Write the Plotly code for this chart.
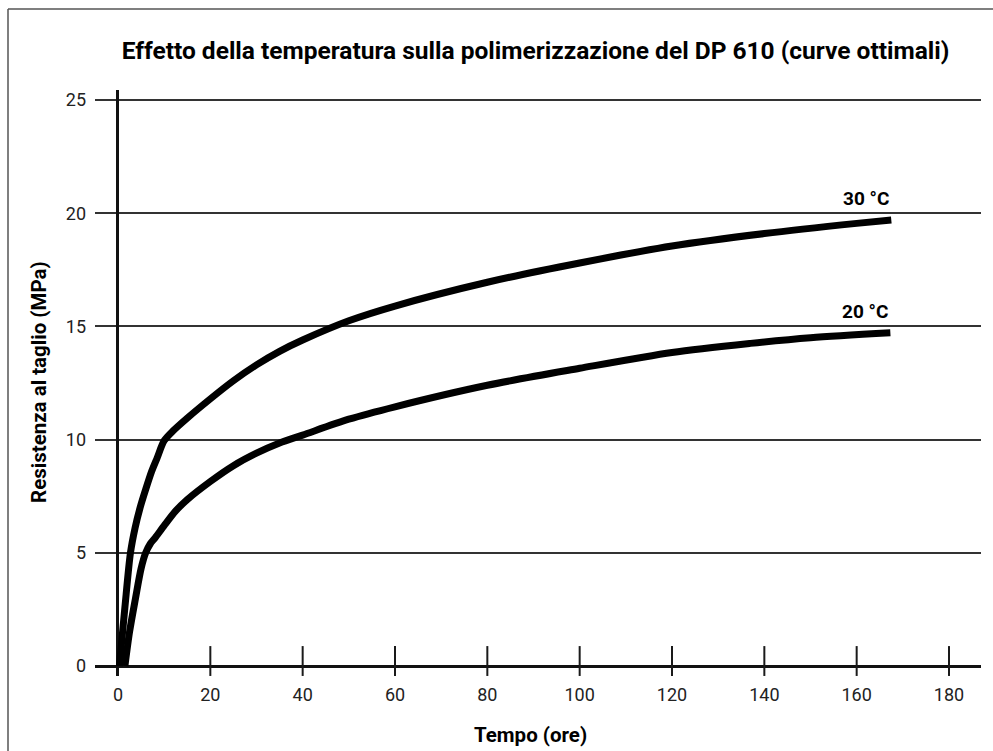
import plotly.graph_objects as go

# Data
x_30 = [0.3, 1.5, 2.7, 3.7, 4.8, 6.0, 7.3, 8.5, 10, 12, 15, 20, 25, 30, 35, 40, 50, 60, 80, 100, 120, 140, 160, 167.5]
y_30 = [0, 2.6, 5.0, 6.1, 7.0, 7.8, 8.6, 9.2, 9.95, 10.4, 10.95, 11.8, 12.6, 13.3, 13.9, 14.4, 15.25, 15.9, 16.95, 17.8, 18.55, 19.1, 19.55, 19.7]

x_20 = [1.5, 2.5, 3.8, 5.0, 6.0, 7.0, 8.0, 10, 12.5, 15, 20, 25, 30, 35, 40, 50, 60, 80, 100, 120, 137, 150, 167.3]
y_20 = [0, 1.5, 3.0, 4.3, 5.0, 5.4, 5.65, 6.2, 6.85, 7.35, 8.15, 8.85, 9.4, 9.85, 10.2, 10.9, 11.45, 12.4, 13.15, 13.85, 14.25, 14.5, 14.72]

x_ticks = [0, 20, 40, 60, 80, 100, 120, 140, 160, 180]
y_ticks = [0, 5, 10, 15, 20, 25]

title_text = "Effetto della temperatura sulla polimerizzazione del DP 610 (curve ottimali)"
x_title = "Tempo (ore)"
y_title = "Resistenza al taglio (MPa)"
labels = ["30 °C", "20 °C"]

FONT = "Roboto, Liberation Sans, sans-serif"

fig = go.Figure()

# crossing tick marks on x axis
tx, ty = [], []
for v in x_ticks[1:]:
    tx += [v, v, None]
    ty += [-0.44, 0.88, None]
fig.add_trace(go.Scatter(x=tx, y=ty, mode="lines", line=dict(color="#1a1a1a", width=2),
                         hoverinfo="skip", showlegend=False))

fig.add_trace(go.Scatter(x=x_30, y=y_30, mode="lines", line=dict(color="black", width=7, shape="spline", smoothing=0.8),
                         showlegend=False, name=labels[0]))
fig.add_trace(go.Scatter(x=x_20, y=y_20, mode="lines", line=dict(color="black", width=7, shape="spline", smoothing=0.8),
                         showlegend=False, name=labels[1]))

fig.add_annotation(x=x_30[-1], y=20, xref="x", yref="y", text="<b>%s</b>" % labels[0], showarrow=False,
                   xanchor="right", yanchor="bottom", yshift=1, font=dict(family=FONT, size=19, color="black"))
fig.add_annotation(x=x_20[-1], y=15, xref="x", yref="y", text="<b>%s</b>" % labels[1], showarrow=False,
                   xanchor="right", yanchor="bottom", yshift=1, font=dict(family=FONT, size=19, color="black"))

# axis titles
fig.add_annotation(x=(530 - 95) / 886, y=(676 - 735) / 586, xref="paper", yref="paper",
                   text="<b>%s</b>" % x_title, showarrow=False, xanchor="center", yanchor="middle",
                   font=dict(family=FONT, size=20.5, color="black"))
fig.add_annotation(x=(39 - 95) / 886, y=(676 - 382) / 586, xref="paper", yref="paper",
                   text="<b>%s</b>" % y_title, showarrow=False, textangle=-90, xanchor="center", yanchor="middle",
                   font=dict(family=FONT, size=20.5, color="black"))

# frame lines (left and top)
fig.add_shape(type="line", xref="paper", yref="paper", x0=(8 - 95) / 886, x1=(8 - 95) / 886,
              y0=(676 - 9) / 586, y1=(676 - 760) / 586, line=dict(color="#555555", width=1.5))
fig.add_shape(type="line", xref="paper", yref="paper", x0=(8 - 95) / 886, x1=(1000 - 95) / 886,
              y0=(676 - 9) / 586, y1=(676 - 9) / 586, line=dict(color="#555555", width=1.5))

fig.update_layout(
    width=993, height=751,
    margin=dict(l=95, r=12, t=90, b=75),
    paper_bgcolor="white", plot_bgcolor="white",
    title=dict(text="<b>%s</b>" % title_text, x=(535.5) / 993, xanchor="center", y=1 - 50 / 751, yanchor="middle",
               font=dict(family=FONT, size=24.5, color="black")),
    font=dict(family=FONT, color="#222"),
)
fig.update_xaxes(range=[-4.98, 186.93], tickvals=x_ticks, ticks="", showgrid=False,
                 zeroline=True, zerolinecolor="#111", zerolinewidth=2.5, showline=False,
                 tickfont=dict(family=FONT, size=18, color="#222"), ticklabelstandoff=6, fixedrange=True)
fig.update_yaxes(range=[-0.4417, 25.4417], tickvals=y_ticks, ticks="", showgrid=True,
                 gridcolor="#333", gridwidth=1.5,
                 zeroline=True, zerolinecolor="#111", zerolinewidth=2.5, showline=False,
                 tickfont=dict(family=FONT, size=18, color="#222"), ticklabelstandoff=8, fixedrange=True)

fig.write_html("out.html", config={"displayModeBar": False},
               post_script="document.body.style.margin='0';document.body.style.overflow='hidden';")
